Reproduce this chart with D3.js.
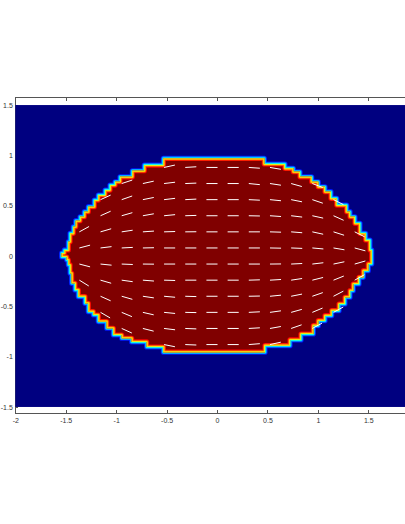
<!DOCTYPE html>
<html>
<head>
<meta charset="utf-8">
<script src="https://cdn.jsdelivr.net/npm/d3@7"></script>
<style>
  html, body { margin: 0; padding: 0; background: #ffffff; }
  svg { display: block; }
  .axis text { font-family: "Liberation Sans", Arial, sans-serif; font-size: 7px; fill: #333; }
  .axis path, .axis line { stroke: #555; stroke-width: 1; shape-rendering: crispEdges; }
</style>
</head>
<body>
<script>
// ---------------- data ----------------
const xTicks = [-2, -1.5, -1, -0.5, 0, 0.5, 1, 1.5];
const yTicks = [-1.5, -1, -0.5, 0, 0.5, 1, 1.5];
const imageX = [-2, 2];          // extent of the field image
const imageY = [-1.5, 1.5];
const axisY = [-1.563, 1.577];   // axes y-limits

// boundary of the high (red) phase, staircase from the grid
const boundary = [
  [-0.532,0.970],[0.469,0.970],[0.469,0.914],[0.674,0.914],[0.674,0.871],[0.757,0.871],[0.757,0.837],[0.823,0.837],
  [0.823,0.787],[0.939,0.787],[0.939,0.738],[1.004,0.738],[1.004,0.688],[1.071,0.688],[1.071,0.639],[1.130,0.639],
  [1.130,0.573],[1.187,0.573],[1.187,0.506],[1.286,0.506],[1.286,0.440],[1.319,0.440],[1.319,0.390],[1.368,0.390],
  [1.368,0.325],[1.418,0.325],[1.418,0.225],[1.474,0.225],[1.474,0.159],[1.517,0.159],[1.517,0.060],[1.534,0.060],
  [1.534,-0.079],[1.500,-0.079],[1.500,-0.146],[1.451,-0.146],[1.451,-0.212],[1.408,-0.212],[1.408,-0.278],[1.351,-0.278],
  [1.351,-0.345],[1.319,-0.345],[1.319,-0.410],[1.269,-0.410],[1.269,-0.477],[1.210,-0.477],[1.210,-0.543],[1.137,-0.543],
  [1.137,-0.593],[1.071,-0.593],[1.071,-0.643],[1.004,-0.643],[1.004,-0.692],[0.955,-0.692],[0.955,-0.775],[0.833,-0.775],
  [0.833,-0.834],[0.724,-0.834],[0.724,-0.891],[0.476,-0.891],[0.476,-0.956],[-0.532,-0.956],[-0.532,-0.904],[-0.697,-0.904],
  [-0.697,-0.854],[-0.846,-0.854],[-0.846,-0.817],[-0.945,-0.817],[-0.945,-0.785],[-1.028,-0.785],[-1.028,-0.718],[-1.094,-0.718],
  [-1.094,-0.652],[-1.177,-0.652],[-1.177,-0.586],[-1.226,-0.586],[-1.226,-0.553],[-1.276,-0.553],[-1.276,-0.470],[-1.309,-0.470],
  [-1.309,-0.404],[-1.375,-0.404],[-1.375,-0.338],[-1.408,-0.338],[-1.408,-0.271],[-1.441,-0.271],[-1.441,-0.172],[-1.457,-0.172],
  [-1.457,-0.089],[-1.474,-0.089],[-1.474,-0.040],[-1.490,-0.040],[-1.490,-0.010],[-1.540,-0.010],[-1.540,0.030],[-1.514,0.030],
  [-1.514,0.060],[-1.474,0.060],[-1.474,0.142],[-1.457,0.142],[-1.457,0.225],[-1.425,0.225],[-1.425,0.291],[-1.401,0.291],
  [-1.401,0.351],[-1.358,0.351],[-1.358,0.390],[-1.316,0.390],[-1.316,0.440],[-1.276,0.440],[-1.276,0.490],[-1.217,0.490],
  [-1.217,0.556],[-1.177,0.556],[-1.177,0.606],[-1.110,0.606],[-1.110,0.655],[-1.061,0.655],[-1.061,0.705],[-1.011,0.705],
  [-1.011,0.738],[-0.962,0.738],[-0.962,0.787],[-0.840,0.787],[-0.840,0.847],[-0.721,0.847],[-0.721,0.904],[-0.532,0.904]
];

// quiver grid (tail positions)
const qx = [-1.365,-1.155,-0.945,-0.735,-0.525,-0.315,-0.105,0.105,0.315,0.525,0.735,0.945,1.155,1.365];
const qy = [0.88,0.72,0.56,0.40,0.24,0.08,-0.08,-0.24,-0.40,-0.56,-0.72,-0.88];
const qMag = 0.11; // vector magnitude
// direction of each vector (rise over run); null = no vector
const qSlope = [
  [null,null,null,null,0.22,0.06,0,0,-0.07,-0.17,null,null,null,null],
  [null,null,0.33,0.22,0.12,0.04,0,0,-0.10,-0.15,-0.28,-0.38,null,null],
  [null,0.45,0.35,0.20,0.12,0.05,0,0,-0.05,-0.10,-0.20,-0.34,-0.50,null],
  [null,0.45,0.29,0.18,0.10,0.03,0,0,-0.02,-0.07,-0.12,-0.22,-0.45,null],
  [0.55,0.29,0.15,0.07,0.03,0.01,0,0,0,-0.03,-0.08,-0.22,-0.32,-0.50],
  [0.26,0.12,0.05,0.02,0,0,0,0,0,-0.02,-0.04,-0.09,-0.17,-0.27],
  [-0.26,-0.10,-0.04,-0.01,0,0,0,0,0,0.01,0.05,0.12,0.21,0.29],
  [-0.62,-0.29,-0.14,-0.08,-0.03,0,0,0,0.03,0.06,0.15,0.25,0.40,0.56],
  [null,-0.45,-0.29,-0.15,-0.09,-0.03,0,0,0.02,0.10,0.20,0.35,0.52,null],
  [null,-0.58,-0.42,-0.23,-0.10,-0.02,0,0,0.05,0.14,0.28,0.42,0.55,null],
  [null,null,-0.45,-0.25,-0.12,-0.04,0,0,0.06,0.18,0.35,0.55,null,null],
  [null,null,null,null,-0.20,-0.04,0,0,0.08,0.22,null,null,null,null]
];

// ---------------- drawing ----------------
const W = 405, H = 524;
const svg = d3.select("body").append("svg").attr("width", W).attr("height", H);
svg.append("rect").attr("width", W).attr("height", H).attr("fill", "#ffffff");

const x = d3.scaleLinear().domain([-2, 2]).range([15.3, 418.74]);
const y = d3.scaleLinear().domain(axisY).range([413.3, 97.3]);
const jet = v => {
  // MATLAB jet colormap
  const r = Math.max(0, Math.min(1, Math.min(4 * v - 1.5, -4 * v + 4.5)));
  const g = Math.max(0, Math.min(1, Math.min(4 * v - 0.5, -4 * v + 3.5)));
  const b = Math.max(0, Math.min(1, Math.min(4 * v + 0.5, -4 * v + 2.5)));
  return d3.rgb(r * 255, g * 255, b * 255).formatHex();
};

// axes (drawn beneath the image, as in the original)
const fmt = d => String(d);
const gAx = svg.append("g");
gAx.append("g").attr("class", "axis")
  .attr("transform", `translate(0,${y(axisY[0])})`)
  .call(d3.axisBottom(x).tickValues(xTicks).tickSize(-3.5).tickSizeOuter(0).tickPadding(5).tickFormat(fmt));
gAx.append("g").attr("class", "axis")
  .attr("transform", `translate(0,${y(axisY[1])})`)
  .call(d3.axisTop(x).tickValues(xTicks).tickSize(-3.5).tickSizeOuter(0).tickFormat(() => ""));
gAx.append("g").attr("class", "axis")
  .attr("transform", `translate(${x(-2)},0)`)
  .call(d3.axisLeft(y).tickValues(yTicks).tickSize(-3).tickSizeOuter(0).tickPadding(2.5).tickFormat(fmt));
gAx.selectAll("text").attr("fill", "#444");

// field image
const img = svg.append("g");
img.append("rect")
  .attr("x", x(imageX[0])).attr("y", y(imageY[1]))
  .attr("width", x(imageX[1]) - x(imageX[0]))
  .attr("height", y(imageY[0]) - y(imageY[1]))
  .attr("fill", jet(0));

const line = d3.line().x(d => x(d[0])).y(d => y(d[1])).curve(d3.curveLinearClosed);
const shapePath = line(boundary);

const defs = svg.append("defs");
defs.append("clipPath").attr("id", "inside").append("path").attr("d", shapePath);
defs.append("clipPath").attr("id", "outside").append("path")
  .attr("d", `M0,0H${W}V${H}H0Z` + shapePath).attr("clip-rule", "evenodd");

// outer half of interpolated transition
const outer = img.append("g").attr("clip-path", "url(#outside)");
[[5.2, 0.15], [3.6, 0.27], [2.0, 0.36], [0.8, 0.44]].forEach(([w, v]) => {
  outer.append("path").attr("d", shapePath).attr("fill", "none")
    .attr("stroke", jet(v)).attr("stroke-width", w).attr("stroke-linejoin", "round");
});
// high phase
img.append("path").attr("d", shapePath).attr("fill", jet(1));
// inner half of interpolated transition
const inner = img.append("g").attr("clip-path", "url(#inside)");
[[5.2, 0.88], [3.6, 0.76], [2.0, 0.66], [0.8, 0.57]].forEach(([w, v]) => {
  inner.append("path").attr("d", shapePath).attr("fill", "none")
    .attr("stroke", jet(v)).attr("stroke-width", w).attr("stroke-linejoin", "round");
});

// quiver (plain segments)
const vecs = [];
qSlope.forEach((row, i) => row.forEach((s, j) => {
  if (s === null) return;
  const a = Math.atan(s);
  vecs.push({ x0: qx[j], y0: qy[i], u: qMag * Math.cos(a), v: qMag * Math.sin(a) });
}));
const q = svg.append("g").attr("stroke", "#ffffff").attr("stroke-width", 1).attr("fill", "none");
q.selectAll("line.shaft").data(vecs).join("line").attr("class", "shaft")
  .attr("x1", d => x(d.x0)).attr("y1", d => y(d.y0))
  .attr("x2", d => x(d.x0 + d.u)).attr("y2", d => y(d.y0 + d.v));
</script>
</body>
</html>
